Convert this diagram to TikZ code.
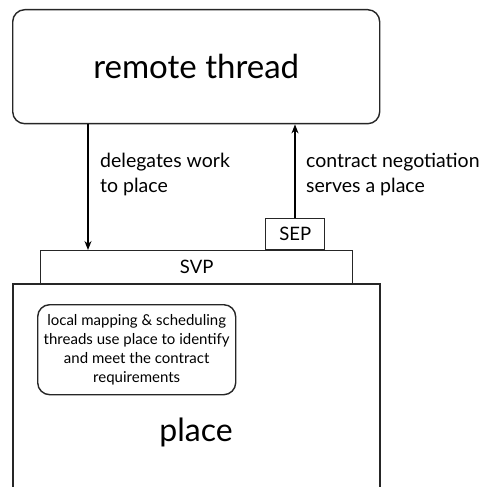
\documentclass[tikz,border=0pt]{standalone}
\usepackage{fontspec}
\setmainfont{Lato}
\usetikzlibrary{arrows.meta}
\begin{document}
\begin{tikzpicture}[x=1pt,y=-1pt,
  box/.style={draw=black!85,line width=1.4pt},
  arr/.style={draw=black,line width=1.4pt,-{Stealth[length=9pt,width=7pt]}},
  lbl/.style={anchor=base west,align=left,font=\fontsize{19.5}{25}\selectfont,inner sep=0pt}]
\useasboundingbox (0,0) rectangle (488,487);
\node[box,rounded corners=12pt,minimum width=367pt,minimum height=114pt,anchor=north west,
  font=\fontsize{33}{38}\selectfont] (rt) at (12,9) {remote thread};
\node[box,minimum width=312pt,minimum height=33pt,anchor=north west,inner sep=0pt,
  font=\fontsize{18.5}{20}\selectfont] (svp) at (40,250) {SVP};
\node[box,minimum width=59pt,minimum height=31pt,anchor=south west,inner sep=0pt,
  font=\fontsize{18.5}{20}\selectfont] (sep) at (265,250) {SEP};
\begin{scope}
\clip (0,0) rectangle (488,487);
\draw[box] (13,500) -- (13,284) -- (380,284) -- (380,500);
\end{scope}
\node[box,rounded corners=12pt,minimum width=198pt,minimum height=90pt,anchor=north west,
  align=center,inner sep=0pt,font=\fontsize{15}{19}\selectfont] (inner) at (37,304)
  {local mapping \& scheduling\\threads use place to identify\\and meet the contract\\requirements};
\node[font=\fontsize{32}{36}\selectfont] (place) at (196,432) {place};
\draw[arr] (rt.south -| 88,0) -- (svp.north -| 88,0);
\draw[arr] (sep.north -| 295,0) -- (rt.south -| 295,0);
\node[lbl] (l1) at (100,193) {delegates work\\to place};
\node[lbl] (l2) at (306,193) {contract negotiation\\serves a place};
\end{tikzpicture}
\end{document}
